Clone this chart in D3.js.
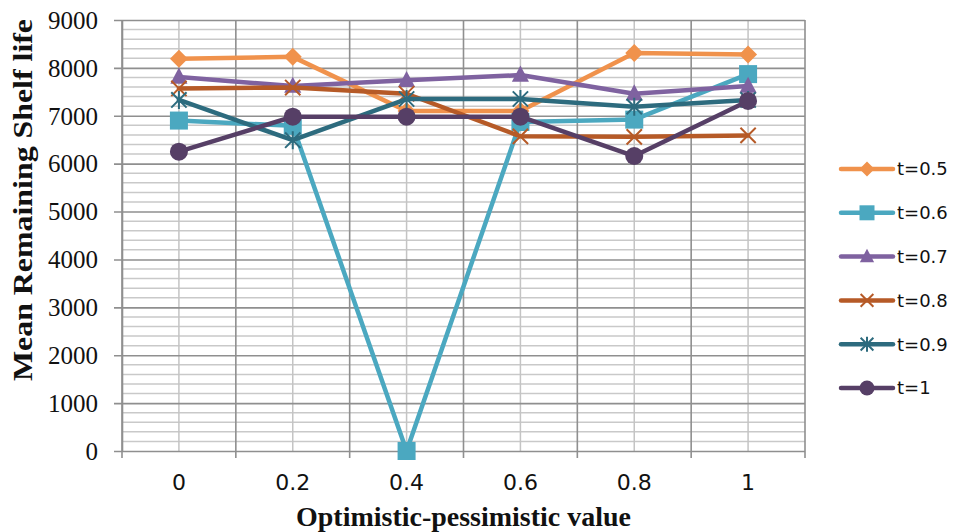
<!DOCTYPE html>
<html>
<head>
<meta charset="utf-8">
<script src="https://cdn.jsdelivr.net/npm/d3@7/dist/d3.min.js"></script>
<style>
  html, body { margin: 0; padding: 0; background: #fff; }
  svg { display: block; }
</style>
</head>
<body>
<svg id="chart" width="955" height="532"></svg>
<script>
// Categories on the x axis (optimistic-pessimistic value)
const categories = ["0", "0.2", "0.4", "0.6", "0.8", "1"];

// Mean remaining shelf life per threshold t
const seriesNames = ["t=0.5", "t=0.6", "t=0.7", "t=0.8", "t=0.9", "t=1"];
const t05 = [8190, 8230, 7100, 7100, 8310, 8280];
const t06 = [6900, 6790, 0, 6870, 6920, 7870];
const t07 = [7810, 7620, 7740, 7850, 7460, 7620];
const t08 = [7570, 7590, 7460, 6570, 6560, 6590];
const t09 = [7330, 6490, 7350, 7350, 7190, 7330];
const t10 = [6250, 6980, 6980, 6980, 6160, 7310];

// Y axis ticks
const yTicks = [0, 1000, 2000, 3000, 4000, 5000, 6000, 7000, 8000, 9000];

const seriesValues = [t05, t06, t07, t08, t09, t10];
const colors = ["#F0924C", "#4BA8C0", "#7F62A0", "#B65A27", "#2D6B7E", "#563F66"];
const shapes = ["diamond", "square", "triangle", "cross", "asterisk", "circle"];

const svg = d3.select("#chart");
const plot = { left: 122, right: 805, top: 20, bottom: 451 };

const x = d3.scaleBand().domain(categories).range([plot.left, plot.right]);
const xc = c => x(c) + x.bandwidth() / 2;
const y = d3.scaleLinear().domain([0, 9000]).range([plot.bottom, plot.top]);

// Minor horizontal gridlines every 200
const minorY = d3.range(0, 9001, 200).filter(v => v % 1000 !== 0);
svg.append("g").selectAll("line").data(minorY).join("line")
  .attr("x1", plot.left).attr("x2", plot.right)
  .attr("y1", d => y(d)).attr("y2", d => y(d))
  .attr("stroke", "#c9c9c9").attr("stroke-width", 1.5);

// Minor vertical gridlines at category centres
svg.append("g").selectAll("line").data(categories).join("line")
  .attr("x1", d => xc(d)).attr("x2", d => xc(d))
  .attr("y1", plot.top).attr("y2", plot.bottom)
  .attr("stroke", "#c4c4c4").attr("stroke-width", 1.5);

// Major vertical gridlines at category boundaries
const bounds = categories.map(c => x(c)).concat([plot.right]);
svg.append("g").selectAll("line").data(bounds).join("line")
  .attr("x1", d => d).attr("x2", d => d)
  .attr("y1", plot.top).attr("y2", plot.bottom + 7)
  .attr("stroke", "#8f8f8f").attr("stroke-width", 1.6);

// Major horizontal gridlines and y axis
const yAxis = d3.axisLeft(y).tickValues(yTicks).tickSize(-(plot.right - plot.left)).tickSizeOuter(0).tickPadding(24)
  .tickFormat(d3.format("d"));
const gy = svg.append("g").attr("transform", `translate(${plot.left},0)`).call(yAxis);
gy.select(".domain").attr("stroke", "#8f8f8f").attr("stroke-width", 1.6);
gy.selectAll(".tick line").attr("stroke", "#8f8f8f").attr("stroke-width", 1.6).attr("x1", -8);
gy.selectAll(".tick text")
  .attr("font-family", "'Liberation Serif', serif").attr("font-size", 25).attr("fill", "#111")
  .attr("dy", "0.33em");

// X axis labels
const xAxis = d3.axisBottom(x).tickSize(0).tickPadding(0);
const gx = svg.append("g").attr("transform", `translate(0,${plot.bottom})`).call(xAxis);
gx.select(".domain").remove();
gx.selectAll(".tick text")
  .attr("font-family", "'DejaVu Sans', sans-serif").attr("font-size", 22).attr("fill", "#111")
  .attr("y", 39).attr("dy", 0);

// Marker drawing
function marker(g, shape, color, s) {
  const h = s / 2;
  if (shape === "diamond") {
    g.append("path").attr("d", `M0,${-h}L${h},0L0,${h}L${-h},0Z`).attr("fill", color);
  } else if (shape === "square") {
    g.append("rect").attr("x", -h).attr("y", -h).attr("width", s).attr("height", s).attr("fill", color);
  } else if (shape === "triangle") {
    g.append("path").attr("d", `M0,${-h * 1.05}L${h * 0.95},${h * 0.75}L${-h * 0.95},${h * 0.75}Z`).attr("fill", color);
  } else if (shape === "circle") {
    g.append("circle").attr("r", h).attr("fill", color);
  } else {
    const k = h * 0.85;
    const p = `M${-k},${-k}L${k},${k}M${-k},${k}L${k},${-k}` + (shape === "asterisk" ? `M0,${-h}L0,${h}` : "");
    g.append("path").attr("d", p).attr("stroke", color).attr("stroke-width", 2).attr("fill", "none");
  }
}

const line = d3.line().x(d => xc(d.c)).y(d => y(d.v));

seriesValues.forEach((vals, i) => {
  const pts = vals.map((v, j) => ({ c: categories[j], v }));
  const g = svg.append("g");
  g.append("path").datum(pts).attr("d", line)
    .attr("fill", "none").attr("stroke", colors[i]).attr("stroke-width", 4.5)
    .attr("stroke-linejoin", "round").attr("stroke-linecap", "round");
  pts.forEach(p => {
    const m = g.append("g").attr("transform", `translate(${xc(p.c)},${y(p.v)})`);
    marker(m, shapes[i], colors[i], 18);
  });
});

// Legend
const legend = svg.append("g");
seriesNames.forEach((name, i) => {
  const ly = 169 + i * 43.8;
  const row = legend.append("g").attr("transform", `translate(0,${ly})`);
  row.append("line").attr("x1", 841).attr("x2", 893).attr("y1", 0).attr("y2", 0)
    .attr("stroke", colors[i]).attr("stroke-width", 4.5).attr("stroke-linecap", "round");
  const m = row.append("g").attr("transform", "translate(867,0)");
  marker(m, shapes[i], colors[i], 15);
  row.append("text").attr("x", 897).attr("y", 0).attr("dy", "0.36em")
    .attr("font-family", "'DejaVu Sans', sans-serif").attr("font-size", 18).attr("fill", "#111")
    .text(name);
});

// Axis titles
svg.append("text")
  .attr("x", (plot.left + plot.right) / 2).attr("y", 526)
  .attr("text-anchor", "middle")
  .attr("font-family", "'Liberation Serif', serif").attr("font-weight", "bold").attr("font-size", 28)
  .attr("textLength", 335).attr("lengthAdjust", "spacingAndGlyphs")
  .attr("fill", "#111")
  .text("Optimistic-pessimistic value");

svg.append("text")
  .attr("transform", "translate(32,200) rotate(-90)")
  .attr("text-anchor", "middle")
  .attr("font-family", "'Liberation Serif', serif").attr("font-weight", "bold").attr("font-size", 28)
  .attr("textLength", 362).attr("lengthAdjust", "spacingAndGlyphs")
  .attr("fill", "#111")
  .text("Mean Remaining Shelf life");
</script>
</body>
</html>
